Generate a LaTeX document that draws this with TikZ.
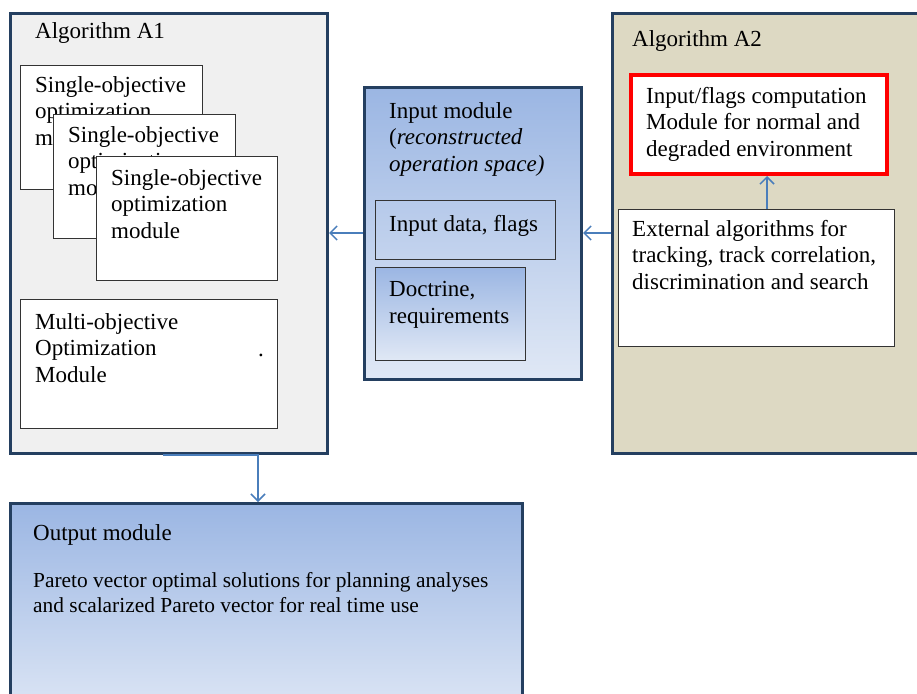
\documentclass[tikz,border=0pt]{standalone}
\usepackage{fontspec}
\setmainfont{Liberation Serif}
\usetikzlibrary{arrows.meta}
\definecolor{navy}{HTML}{243F60}
\definecolor{arrowblue}{HTML}{4A7EBB}
\definecolor{panelgray}{HTML}{F0F0F0}
\definecolor{tanfill}{HTML}{DDD9C3}
\definecolor{blueTop}{HTML}{9BB6E3}
\definecolor{blueBot}{HTML}{E0E8F5}
\begin{document}
\begin{tikzpicture}[x=1pt,y=-1pt,
  box/.style={anchor=north west,inner sep=0pt},
  outer/.style={box,draw=navy,line width=3pt},
  inner/.style={box,draw=black!80,line width=0.8pt},
  lbl/.style={anchor=base west,inner sep=0pt,align=left,font=\fontsize{23}{26.2}\selectfont},
  small/.style={lbl,font=\fontsize{21.4}{25}\selectfont},
  conn/.style={draw=arrowblue,line width=1.5pt,-{Straight Barb[length=7pt,width=14pt]}}]
\useasboundingbox (0,0) rectangle (917,693);
\clip (0,0) rectangle (917,693);
\fill[white] (0,0) rectangle (917,693);
% Algorithm A1
\node[outer,fill=panelgray,minimum width=317pt,minimum height=440pt] (A1) at (9,12) {};
\node[lbl] (A1t) at (35,39) {Algorithm A1};
\node[inner,fill=white,minimum width=182pt,minimum height=124pt] (S1) at (20,65) {};
\node[lbl] (S1t) at (35,145) {Single-objective\\optimization\\module};
\node[inner,fill=white,minimum width=182pt,minimum height=124pt] (S2) at (53,114) {};
\node[lbl] (S2t) at (68,195) {Single-objective\\optimization\\module};
\node[inner,fill=white,minimum width=181pt,minimum height=124pt] (S3) at (96,156) {};
\node[lbl] (S3t) at (111,238) {Single-objective\\optimization\\module};
\node[inner,fill=white,minimum width=257pt,minimum height=129pt] (MO) at (20,299) {};
\node[lbl] (MOt) at (35,382) {Multi-objective\\Optimization\\Module};
\node[lbl] (MOd) at (258,356) {.};
% Input module
\node[outer,top color=blueTop,bottom color=blueBot,minimum width=217pt,minimum height=292pt] (IM) at (363,86) {};
\node[lbl] (IMt) at (389,171) {Input module\\(\textit{reconstructed}\\\textit{operation space)}};
\node[inner,minimum width=180pt,minimum height=59pt] (ID) at (375,200) {};
\node[lbl] (IDt) at (389,231) {Input data, flags};
\node[inner,top color=blueTop,bottom color=blueBot,minimum width=150pt,minimum height=93pt] (DOC) at (375,267) {};
\node[lbl] (DOCt) at (389,323) {Doctrine,\\requirements};
% Algorithm A2
\node[outer,fill=tanfill,minimum width=330pt,minimum height=440pt] (A2) at (611,12) {};
\node[lbl] (A2t) at (632,47) {Algorithm A2};
\node[box,draw=red,line width=4pt,fill=white,minimum width=256pt,minimum height=99pt] (RED) at (629,73) {};
\node[lbl] (REDt) at (646,156) {Input/flags computation\\Module for normal and\\degraded environment};
\node[inner,fill=white,minimum width=276pt,minimum height=137pt] (EXT) at (618,209) {};
\node[lbl] (EXTt) at (632,289) {External algorithms for\\tracking, track correlation,\\discrimination and search};
% Output module
\node[outer,top color=blueTop,bottom color=blueBot!60!white,minimum width=512pt,minimum height=260pt] (OUT) at (9,502) {};
\node[lbl] (OUTt) at (33,540) {Output module};
\node[small] (OUTd) at (33,612) {Pareto vector optimal solutions for planning analyses\\and scalarized Pareto vector for real time use};
% connectors
\coordinate (ya) at (0,233);
\coordinate (xv) at (767,0);
\coordinate (c1) at (163,0);
\coordinate (c2) at (258,0);
\draw[conn] (A2.west |- ya) -- (IM.east |- ya);
\draw[conn] (IM.west |- ya) -- (A1.east |- ya);
\draw[conn] (EXT.north -| xv) -- (RED.south -| xv);
\draw[conn] (c1 |- A1.south) -- (c2 |- A1.south) -- (c2 |- OUT.north);
\end{tikzpicture}
\end{document}
